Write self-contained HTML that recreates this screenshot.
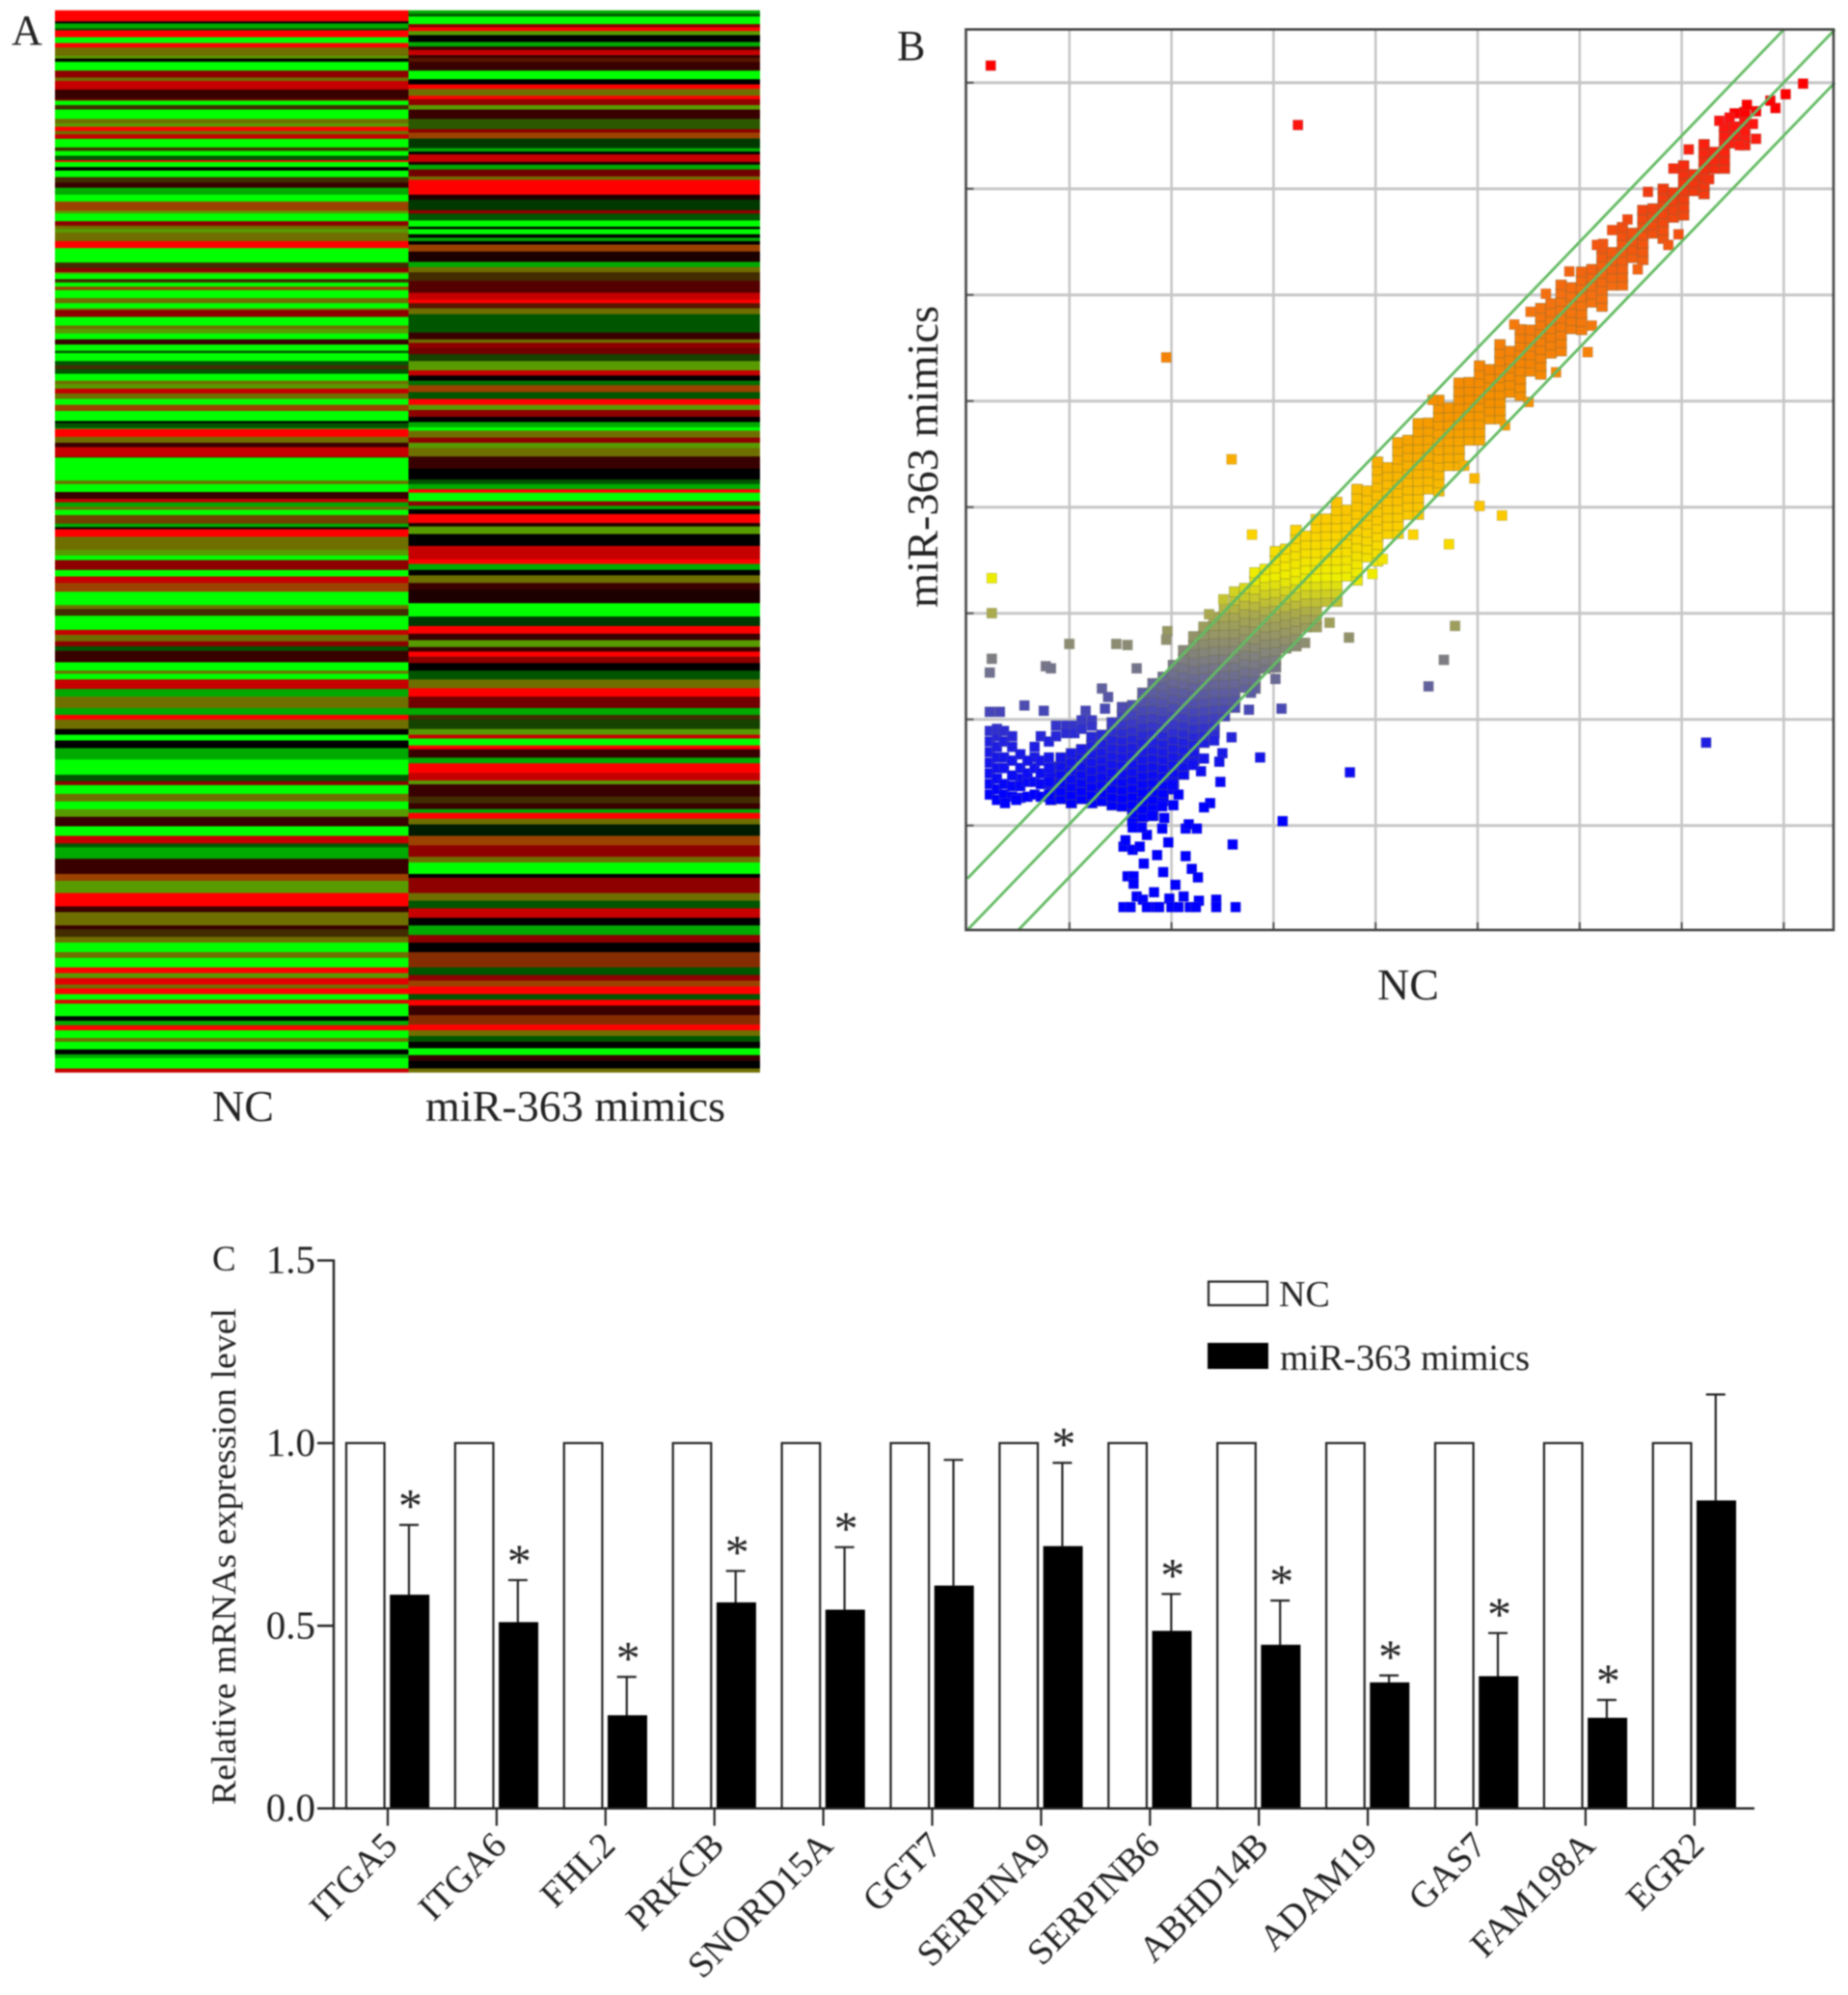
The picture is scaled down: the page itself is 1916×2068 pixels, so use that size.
<!DOCTYPE html>
<html lang="en">
<head>
<meta charset="utf-8">
<title>miR-363 mimics expression figure</title>
<style>
html,body{margin:0;padding:0;background:#fff;}
svg{display:block;filter:blur(0.7px);}
text{font-family:"Liberation Serif",serif;fill:#222;}
</style>
</head>
<body>
<svg id="figure" xmlns="http://www.w3.org/2000/svg" width="1916" height="2068" viewBox="0 0 1916 2068">
  <rect x="0" y="0" width="1916" height="2068" fill="#fff"/>

  <g id="panel-a">
    <g id="heat-nc"></g>
    <g id="heat-mimics"></g>
    <text x="12" y="46" font-size="44">A</text>
    <text x="220" y="1162" font-size="46">NC</text>
    <text x="441" y="1162" font-size="45" textLength="311" lengthAdjust="spacingAndGlyphs">miR-363 mimics</text>
  </g>

  <g id="panel-b">
    <g id="scatter-grid"></g>
    <g id="scatter-marks"></g>
    <g id="scatter-lines"></g>
    <rect x="1001.5" y="30.5" width="899.5" height="933.5" fill="none" stroke="#444" stroke-width="2.6"/>
    <text x="930" y="62" font-size="44">B</text>
    <text transform="translate(972,630) rotate(-90)" font-size="46" textLength="313" lengthAdjust="spacingAndGlyphs">miR-363 mimics</text>
    <text x="1428" y="1036" font-size="46">NC</text>
  </g>

  <g id="panel-c">
    <g id="bars"></g>
    <g id="bar-axes"></g>
    <text x="220" y="1317" font-size="37">C</text>
    <text transform="translate(244,1871) rotate(-90)" font-size="36" textLength="515" lengthAdjust="spacingAndGlyphs">Relative mRNAs expression level</text>
    <rect x="1253" y="1328.5" width="61" height="24.5" fill="#fff" stroke="#222" stroke-width="2.2"/>
    <text x="1326" y="1354" font-size="38">NC</text>
    <rect x="1253" y="1393" width="61" height="25" fill="#000" stroke="#000" stroke-width="2"/>
    <text x="1327" y="1420" font-size="38" textLength="259" lengthAdjust="spacingAndGlyphs">miR-363 mimics</text>
  </g>
</svg>

<script>
/* ---------- Panel A: heatmap bands. Level code = 10*redLevel + greenLevel, each level 0..9 ---------- */
const ncUpperRows = [32,6,14,6,20,17,13,12,12,8, 8,2,25,20,10,25,28,4,13,13, 27,13,10,12,10,13,25,10,14,13, 5,15,10,19,16,15,20,20,12,15, 8,22,13,10,10,10,15,20,42,16, 12,5,15,10,12,10,23,15,15,5, 20,25,10,13,17,15,18,7,23,12, 12,13,20,10,13,14,16,17,18,29, 6,14,3,23,17,13,27,3,67,10, 23,20,10,12,10,15,25,10,6,22, 10];
const ncUpperLevels = [90,0,6,3,90,9,90,55,55,47, 0,3,9,50,55,70,20,50,9,32, 9,55,47,90,55,70,9,32,9,3, 90,9,0,9,32,20,6,9,73,73, 47,9,50,55,47,55,55,90,9,32, 50,47,9,32,9,73,9,55,9,55, 50,9,55,47,9,20,9,3,9,3, 32,3,9,55,47,70,55,9,73,9, 0,3,6,90,55,20,70,50,9,55, 9,20,70,6,55,9,53,6,0,90, 55];
const ncLowerRows = [10,15,15,12,26,17,17,23,35,10, 18,37,13,17,13,12,30,22,8,15, 25,20,30,18,12,25,15,15,20,30, 40,17,10,23,20,20,20,25,25,20, 10,30,40,18,27,5,35,15,35,10, 20,15,25,15,25,15,13,17,10,15, 15,10,33,12,12,13,20,10,20,13, 10,27,10];
const ncLowerLevels = [55,55,47,9,50,9,70,73,9,55, 32,9,70,55,50,3,20,9,55,9, 70,6,55,6,90,55,0,9,0,6, 9,3,50,9,55,9,47,20,9,70, 3,6,20,73,47,47,90,20,55,20, 32,55,9,55,9,90,47,80,55,90, 9,80,9,0,6,90,9,55,9,0, 6,9,70];
const mimicsUpperRows = [10,8,22,10,10,12,20,13,10,15, 8,12,25,25,15,13,20,10,17,13, 27,30,10,17,28,10,8,22,8,14, 20,10,43,15,30,10,20,18,7,15, 10,10,10,20,30,15,15,25,35,20, 10,15,17,23,30,20,10,15,18,20, 27,15,15,13,20,20,17,15,20,15, 15,10,20,15,15,25,35,32,13,15, 10,25,13,10,14,26,10,22,18];
const mimicsUpperLevels = [6,3,9,50,90,47,0,6,20,70, 20,41,20,9,0,90,55,90,50,47, 20,24,50,73,2,6,0,70,10,6, 40,55,90,10,2,50,3,9,0,9, 0,6,0,73,10,6,55,32,30,70, 90,41,55,3,3,20,55,50,40,13, 47,70,0,4,73,3,90,47,50,0, 6,9,55,50,47,55,20,0,3,6, 90,9,50,6,0,90,10,47,0];
const mimicsLowerRows = [15,35,12,16,14,20,18,35,20,15, 25,20,17,18,12,13,17,20,23,23, 22,30,18,12,25,15,10,18,10,22, 15,25,20,10,32,18,15,10,15,15, 30,25,30,15,3,27,10,40,20,20, 25,20,25,20,25,40,20,15,15,20, 15,15,25,25,15,15,15,17,18,15, 20,10];
const mimicsLowerLevels = [0,70,90,6,0,55,20,10,9,9, 2,90,20,47,20,90,50,0,3,55, 90,40,6,32,13,47,70,9,90,20, 6,90,70,47,20,32,20,6,90,55, 1,73,50,55,9,9,0,50,55,3, 70,0,6,50,0,62,3,50,73,90, 3,90,20,62,90,55,3,0,9,20, 0,55];

/* ---------- Panel B: scatter. Dense diagonal read as per-NC-bin ranges; sparse points read individually ---------- */
const cloudNc = [0.8,0.9,1.0,1.1,1.2,1.3,1.4,1.5,1.6,1.7,1.8,1.9,2.0,2.1,2.2,2.3,2.4,2.5,2.6,2.7,2.8,2.9,3.0,3.1,3.2,3.3,3.4,3.5,3.6,3.7,3.8,3.9,4.0,4.1,4.2,4.3,4.4,4.5,4.6,4.7,4.8,4.9,5.0,5.1,5.2,5.3,5.4,5.5,5.6,5.7,5.8,5.9,6.0,6.1,6.2,6.3,6.4,6.5,6.6,6.7,6.8,6.9,7.0,7.1,7.2,7.3,7.4,7.5,7.6];
const cloudLow = [1.25,1.22,1.22,1.22,1.22,1.2,1.2,1.15,1.05,1.05,1.1,1.2,1.35,1.45,1.62,1.75,1.88,2.0,2.12,2.27,2.3,2.45,2.5,2.64,2.7,2.84,2.88,3.08,3.12,3.32,3.32,3.5,3.5,3.72,3.76,3.9,3.94,4.14,4.16,4.36,4.4,4.6,4.64,4.8,4.84,5.05,5.06,5.25,5.26,5.42,5.48,5.65,5.68,5.9,5.9,6.06,6.1,6.32,6.34,6.55,6.54,6.7,6.76,6.95,6.96,7.16,7.2,7.4,7.42];
const cloudHigh = [1.6,1.7,1.75,1.8,1.85,1.9,2.0,2.15,2.2,2.3,2.38,2.45,2.55,2.72,2.8,2.92,3.0,3.1,3.22,3.3,3.42,3.5,3.6,3.62,3.8,3.78,3.92,3.9,4.12,4.06,4.25,4.24,4.45,4.42,4.62,4.66,4.85,4.86,5.04,5.02,5.22,5.2,5.4,5.36,5.58,5.55,5.74,5.72,5.92,5.94,6.14,6.1,6.3,6.26,6.5,6.46,6.68,6.62,6.88,6.86,7.06,7.0,7.28,7.2,7.44,7.4,7.62,7.6,7.78];
const pointNc = [0.21,3.22,1.93,2.57,2.77,0.22,0.22,0.22,0.2,0.75,0.8,0.98,1.44,1.55,1.94,1.93,1.64,0.54,0.73,0.2,0.3,1.14,1.3,1.36,1.33,3.0,2.76,2.74,3.06,2.57,2.85,3.73,3.07,2.46,2.48,2.45,2.3,2.27,2.19,2.4,2.36,2.3,2.05,2.0,1.99,1.89,1.91,1.79,1.89,1.74,1.69,1.6,2.12,2.15,2.23,1.95,2.58,1.51,1.6,1.67,1.53,1.84,2.12,1.71,1.9,2.18,2.24,1.55,1.61,1.61,2.02,1.81,1.64,1.7,2.1,1.96,2.25,2.42,1.51,1.58,1.74,1.83,1.86,1.98,2.05,2.16,2.22,2.42,2.61,4.95,5.0,5.22,4.7,4.76,4.65,4.5,7.22,8.17,8.0,7.9,7.85,7.71,7.5,7.71,6.85,6.06,5.48,4.54,6.3,5.34,5.88,6.21,3.53,3.29,2.35,2.49,3.72,0.2,0.2,0.2,0.2,0.2,0.2,0.2,0.27,0.27,0.27,0.27,0.27,0.27,0.27,0.27,0.34,0.34,0.34,0.34,0.34,0.34,0.42,0.42,0.42,0.42,0.5,0.5,0.5,0.5,0.57,0.57,0.57,0.64,0.64,0.64,0.64,0.7,0.7,0.7,0.7,0.7,0.78,0.85,0.85,0.95,0.95,1.03,1.03,1.1,1.1,1.2,1.2, 7.6,7.68,7.55,7.62,7.45,7.35,7.05,6.9,6.65,6.45,6.15,5.65,5.5,7.25,6.95,6.55,6.1,5.75,5.25,4.85,4.35,3.95,4.05, 0.42,0.42,0.5,0.57,0.64,0.78,0.78,0.78,0.78,0.46,0.35];
const pointMimics = [8.17,7.61,5.42,4.46,3.75,3.34,3.01,2.58,2.45,2.51,2.49,2.72,2.72,2.71,2.84,2.76,2.49,2.14,2.09,2.08,2.08,2.09,2.3,2.22,2.11,2.39,2.26,2.1,2.11,1.84,1.65,1.51,1.05,1.42,1.69,1.61,1.64,1.52,1.58,1.81,1.22,1.18,1.3,1.2,1.39,1.19,1.08,1.1,0.98,0.92,0.99,0.99,0.98,1.02,0.98,0.85,0.83,0.81,0.78,0.81,0.87,0.73,0.72,0.65,0.57,0.6,0.52,0.53,0.53,0.46,0.45,0.38,0.34,0.31,0.34,0.32,0.3,0.31,0.24,0.24,0.24,0.24,0.24,0.24,0.24,0.24,0.24,0.24,0.24,4.28,4.02,3.93,3.66,2.89,2.57,2.32,1.79,8.0,7.9,7.77,7.84,7.48,7.72,7.74,6.48,5.47,5.0,5.02,6.62,5.73,6.23,6.49,2.92,2.73,3.0,3.14,2.78,1.3,1.4,1.5,1.6,1.7,1.8,1.9,1.25,1.35,1.45,1.55,1.65,1.75,1.85,1.92,1.3,1.4,1.55,1.65,1.8,1.9,1.75,1.85,1.38,1.62,1.55,1.45,1.38,1.27,1.28,1.42,1.5,1.3,1.42,1.55,1.65,1.28,1.4,1.5,1.62,1.85,1.8,1.85,1.95,1.95,1.88,1.95,1.88,2.0,1.92,2.0,1.95, 7.55,7.62,7.42,7.8,7.68,7.65,7.38,7.2,6.98,6.72,6.48,6.02,5.85,7.1,6.58,6.25,5.72,5.28,4.78,4.4,3.75,3.38,3.52, 1.28,1.48,1.68,1.62,1.75,1.3,1.42,1.55,1.65,1.25,1.22];
const scatterGridValues = [1,2,3,4,5,6,7,8];
const foldOffsets = [0.5,0,-0.5];

/* ---------- Panel C: bar chart ---------- */
const genes = ["ITGA5","ITGA6","FHL2","PRKCB","SNORD15A","GGT7","SERPINA9","SERPINB6","ABHD14B","ADAM19","GAS7","FAM198A","EGR2"];
const ncValues = [1,1,1,1,1,1,1,1,1,1,1,1,1];
const mimicValues = [0.585,0.51,0.255,0.564,0.544,0.61,0.718,0.486,0.448,0.345,0.362,0.248,0.843];
const mimicErrorTops = [0.776,0.625,0.36,0.65,0.715,0.954,0.946,0.587,0.569,0.364,0.48,0.297,1.133];
const significant = [1,1,1,1,1,0,1,1,1,1,1,1,0];
const yTicks = [0,0.5,1,1.5];
const yTickLabels = ["0.0","0.5","1.0","1.5"];

const NS = "http://www.w3.org/2000/svg";
function make(parent, tag, attrs, text) {
  const el = document.createElementNS(NS, tag);
  for (const k in attrs) el.setAttribute(k, attrs[k]);
  if (text !== undefined) el.textContent = text;
  parent.appendChild(el);
  return el;
}
function sum(a) { return a.reduce(function (s, v) { return s + v; }, 0); }

/* heatmap drawing */
const heatTop = 10.7, heatSplit = 560, heatBottom = 1111.5;
function levelColor(code) {
  const rl = Math.floor(code / 10), gl = code % 10;
  const mixDim = (rl > 0 && gl > 0) ? 0.78 : 1;
  const r = rl / 9 * 255 * mixDim;
  const g = gl / 9 * 255 * mixDim;
  return "rgb(" + Math.round(r) + "," + Math.round(g) + ",0)";
}
function drawBands(groupId, x0, x1, rows, levels, yStart, yEnd) {
  const g = document.getElementById(groupId);
  const unit = (yEnd - yStart) / sum(rows);
  let y = yStart;
  rows.forEach(function (n, i) {
    const band = make(g, "rect", {x: x0, y: y.toFixed(2), width: x1 - x0, height: (n * unit + 0.3).toFixed(2), fill: levelColor(levels[i])});
    
    
    y += n * unit;
  });
}
drawBands("heat-nc", 57, 423.5, ncUpperRows, ncUpperLevels, heatTop, heatSplit);
drawBands("heat-nc", 57, 423.5, ncLowerRows, ncLowerLevels, heatSplit, heatBottom);
drawBands("heat-mimics", 423.5, 788, mimicsUpperRows, mimicsUpperLevels, heatTop, heatSplit);
drawBands("heat-mimics", 423.5, 788, mimicsLowerRows, mimicsLowerLevels, heatSplit, heatBottom);

/* scatter drawing */
const sx = function (v) { return 1003 + v * 105.8; };
const sy = function (v) { return 965.7 - v * 110; };
const rampAt = [1.3,1.8,2.2,2.6,3.0,3.35,3.8,5,6,7,7.7];
const rampRgb = [[0,0,255],[32,32,224],[85,85,168],[128,128,128],[168,168,80],[238,238,0],[251,208,0],[245,144,0],[244,112,16],[240,58,16],[255,16,16]];
function rampColor(v) {
  if (v <= rampAt[0]) return "rgb(0,0,255)";
  for (let i = 1; i < rampAt.length; i++) {
    if (v <= rampAt[i]) {
      const t = (v - rampAt[i - 1]) / (rampAt[i] - rampAt[i - 1]);
      const a = rampRgb[i - 1], b = rampRgb[i];
      return "rgb(" + Math.round(a[0] + (b[0] - a[0]) * t) + "," + Math.round(a[1] + (b[1] - a[1]) * t) + "," + Math.round(a[2] + (b[2] - a[2]) * t) + ")";
    }
  }
  return "rgb(255,0,0)";
}
const gridG = document.getElementById("scatter-grid");
scatterGridValues.forEach(function (v) {
  const vLine = make(gridG, "line", {x1: sx(v), x2: sx(v), y1: 30.5, y2: 964, stroke: "#c6c6c6", "stroke-width": 2.6});
  
  
  const hLine = make(gridG, "line", {x1: 1001.5, x2: 1901, y1: sy(v), y2: sy(v), stroke: "#c6c6c6", "stroke-width": 3});
  
  
  const xTick = make(gridG, "line", {x1: sx(v), x2: sx(v), y1: 956, y2: 964, stroke: "#555", "stroke-width": 2});
  
  
  const yTick = make(gridG, "line", {x1: 1001.5, x2: 1009.5, y1: sy(v), y2: sy(v), stroke: "#555", "stroke-width": 2});
  
  
});
const marksG = document.getElementById("scatter-marks");
const squareW = 10.4;
const markShiftX = 2, markShiftY = 1;
cloudNc.forEach(function (nc, i) {
  const cell = 0.078;
  const stagger = (i % 2) * cell / 2;
  for (let m = cloudLow[i] + stagger; m <= cloudHigh[i]; m += cell) {
    const c = make(marksG, "rect", {x: (sx(nc) + markShiftX - 5.6).toFixed(1), y: (sy(m) + markShiftY - squareW / 2).toFixed(1), width: 11.2, height: squareW, fill: rampColor(m), stroke: "#6a6a40", "stroke-opacity": 0.42, "stroke-width": 0.9});
    
    
  }
});
pointNc.forEach(function (nc, i) {
  const m = pointMimics[i];
  const p = make(marksG, "rect", {x: (sx(nc) + markShiftX - squareW / 2).toFixed(1), y: (sy(m) + markShiftY - squareW / 2).toFixed(1), width: squareW, height: squareW, fill: rampColor(m), stroke: "#777", "stroke-opacity": 0.3, "stroke-width": 0.7});
  
  
});
const linesG = document.getElementById("scatter-lines");
foldOffsets.forEach(function (off) {
  const x0 = Math.max(0, -off), x1 = Math.min(8.5, 8.5 - off);
  const l = make(linesG, "line", {x1: sx(x0), y1: Math.min(sy(x0 + off), 964), x2: sx(x1), y2: sy(x1 + off), stroke: "#62bb62", "stroke-width": 2.8});
  
  
});

/* bar chart drawing */
const bx = function (i) { return 402 + 112.9 * i; };
const by = function (v) { return 1874.6 - v * 378.7; };
const barsG = document.getElementById("bars");
genes.forEach(function (gene, i) {
  const t = bx(i);
  const nc = make(barsG, "rect", {x: t - 43, y: by(ncValues[i]), width: 39.6, height: by(0) - by(ncValues[i]), fill: "#fff", stroke: "#222", "stroke-width": 2.2});
  
  
  const errLine = make(barsG, "line", {x1: t + 22, x2: t + 22, y1: by(mimicValues[i]), y2: by(mimicErrorTops[i]), stroke: "#222", "stroke-width": 2.2});
  
  
  const errCap = make(barsG, "line", {x1: t + 12, x2: t + 32, y1: by(mimicErrorTops[i]), y2: by(mimicErrorTops[i]), stroke: "#222", "stroke-width": 2.2});
  
  
  const bar = make(barsG, "rect", {x: t + 2.2, y: by(mimicValues[i]), width: 41, height: by(0) - by(mimicValues[i]), fill: "#000"});
  
  
  if (significant[i]) {
    const star = make(barsG, "text", {x: t + 23.5, y: by(mimicErrorTops[i]) - 3, "font-size": 50, "text-anchor": "middle"}, "*");
    
    
  }
  const tick = make(barsG, "line", {x1: t, x2: t, y1: by(0), y2: by(0) + 18, stroke: "#222", "stroke-width": 2.2});
  
  
  const label = make(barsG, "text", {transform: "translate(" + (t + 12) + ",1915) rotate(-45)", "font-size": 38, "text-anchor": "end"}, gene);
  
  
});
const axesG = document.getElementById("bar-axes");
const yAxis = make(axesG, "line", {x1: 346, x2: 346, y1: by(1.5) - 1, y2: by(0) + 1, stroke: "#222", "stroke-width": 2.4});


const xAxis = make(axesG, "line", {x1: 345, x2: 1819, y1: by(0), y2: by(0), stroke: "#222", "stroke-width": 2.4});


yTicks.forEach(function (v, i) {
  const tk = make(axesG, "line", {x1: 329, x2: 346, y1: by(v), y2: by(v), stroke: "#222", "stroke-width": 2.4});
  
  
  const tl = make(axesG, "text", {x: 327, y: by(v) + 13, "font-size": 41, "text-anchor": "end"}, yTickLabels[i]);
  
  
});
</script>
</body>
</html>
